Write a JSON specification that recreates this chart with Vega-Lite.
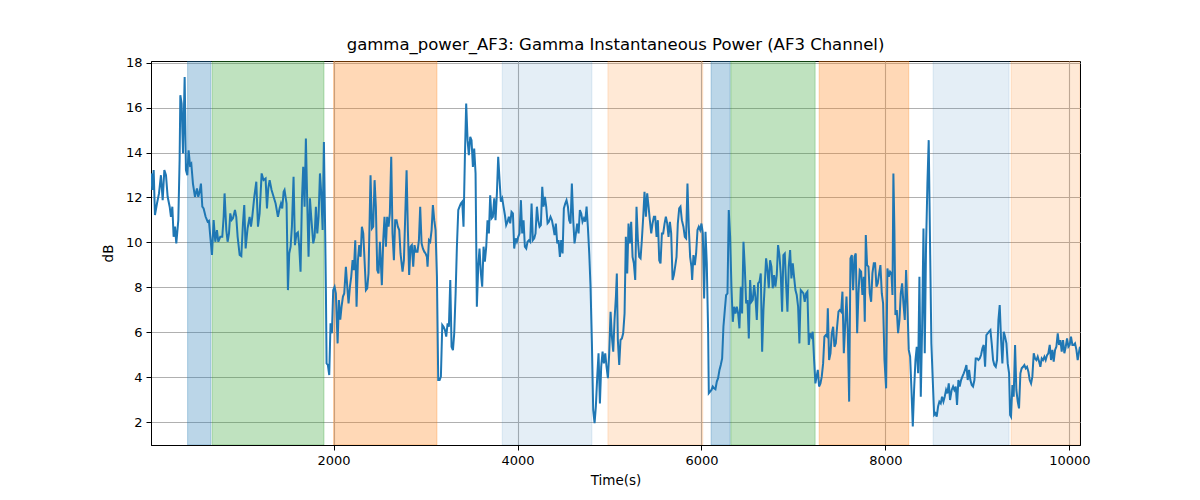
{
  "$schema": "https://vega.github.io/schema/vega-lite/v6.json",
  "width": 929,
  "height": 384,
  "autosize": {"type": "none"},
  "padding": {"left": 151, "top": 61, "right": 120, "bottom": 55},
  "background": "white",
  "title": {"text": "gamma_power_AF3: Gamma Instantaneous Power (AF3 Channel)", "font": "DejaVu Sans", "fontSize": 16.5, "fontWeight": "normal", "color": "black", "offset": 3},
  "datasets": {
    "bands": [
      {"start": 413, "end": 667, "phase": "A"},
      {"start": 681, "end": 1896, "phase": "B"},
      {"start": 2000, "end": 3124, "phase": "C"},
      {"start": 3834, "end": 4809, "phase": "D"},
      {"start": 4983, "end": 6015, "phase": "E"},
      {"start": 6105, "end": 6312, "phase": "A"},
      {"start": 6320, "end": 7236, "phase": "B"},
      {"start": 7280, "end": 8254, "phase": "C"},
      {"start": 8519, "end": 9345, "phase": "D"},
      {"start": 9367, "end": 10116, "phase": "E"}
    ],
    "signal": [
      {"t":18,"v":13.07},{"t":29,"v":12.33},{"t":44,"v":13.22},{"t":58,"v":11.22},{"t":80,"v":11.73},{"t":102,"v":12.18},{"t":123,"v":12.99},{"t":142,"v":11.88},{"t":160,"v":13.22},{"t":178,"v":12.99},{"t":196,"v":12.03},{"t":218,"v":11.59},{"t":232,"v":11.14},{"t":247,"v":11.59},{"t":261,"v":10.25},{"t":276,"v":10.70},{"t":290,"v":9.96},{"t":312,"v":10.99},{"t":326,"v":13.66},{"t":334,"v":16.55},{"t":348,"v":16.18},{"t":363,"v":13.96},{"t":381,"v":17.36},{"t":395,"v":13.22},{"t":410,"v":12.99},{"t":424,"v":14.10},{"t":439,"v":13.44},{"t":453,"v":13.51},{"t":471,"v":12.62},{"t":493,"v":12.03},{"t":515,"v":12.40},{"t":529,"v":12.03},{"t":544,"v":12.25},{"t":558,"v":12.62},{"t":573,"v":11.59},{"t":587,"v":11.51},{"t":609,"v":11.14},{"t":631,"v":10.92},{"t":645,"v":10.96},{"t":660,"v":10.25},{"t":678,"v":9.44},{"t":696,"v":11.0},{"t":714,"v":10.03},{"t":732,"v":10.55},{"t":747,"v":10.03},{"t":768,"v":10.25},{"t":790,"v":10.25},{"t":805,"v":11.14},{"t":815,"v":12.18},{"t":834,"v":10.55},{"t":848,"v":10.03},{"t":863,"v":10.40},{"t":877,"v":11.29},{"t":892,"v":11.0},{"t":906,"v":11.07},{"t":928,"v":11.44},{"t":942,"v":11.14},{"t":957,"v":10.25},{"t":979,"v":9.44},{"t":997,"v":9.39},{"t":1015,"v":10.85},{"t":1029,"v":11.66},{"t":1044,"v":9.73},{"t":1065,"v":10.62},{"t":1087,"v":11.14},{"t":1102,"v":10.70},{"t":1116,"v":11.14},{"t":1138,"v":12.03},{"t":1160,"v":12.70},{"t":1178,"v":10.70},{"t":1196,"v":11.29},{"t":1218,"v":13.07},{"t":1239,"v":12.77},{"t":1261,"v":12.84},{"t":1276,"v":11.51},{"t":1290,"v":12.40},{"t":1305,"v":12.77},{"t":1326,"v":12.33},{"t":1348,"v":12.03},{"t":1370,"v":11.73},{"t":1395,"v":11.14},{"t":1413,"v":11.51},{"t":1428,"v":11.73},{"t":1442,"v":11.51},{"t":1457,"v":12.25},
      {"t":1467,"v":12.33},{"t":1489,"v":11.73},{"t":1504,"v":7.88},{"t":1518,"v":9.51},{"t":1533,"v":9.81},{"t":1547,"v":10.70},{"t":1565,"v":12.92},{"t":1580,"v":9.88},{"t":1598,"v":10.40},{"t":1612,"v":10.45},{"t":1627,"v":9.81},{"t":1641,"v":8.70},{"t":1656,"v":11.88},{"t":1670,"v":13.36},{"t":1685,"v":11.59},{"t":1699,"v":14.62},{"t":1714,"v":11.73},{"t":1728,"v":9.36},{"t":1743,"v":11.96},{"t":1757,"v":11.14},{"t":1779,"v":9.96},{"t":1794,"v":10.25},{"t":1808,"v":11.59},{"t":1823,"v":10.40},{"t":1837,"v":11.14},{"t":1852,"v":13.07},{"t":1866,"v":12.18},{"t":1881,"v":10.55},{"t":1895,"v":14.47},{"t":1909,"v":10.40},{"t":1917,"v":7.73},{"t":1924,"v":4.62},{"t":1938,"v":4.55},{"t":1953,"v":4.10},{"t":1967,"v":6.40},{"t":1982,"v":5.96},{"t":1996,"v":7.88},{"t":2011,"v":8.03},{"t":2025,"v":7.73},{"t":2044,"v":5.51},{"t":2058,"v":7.44},{"t":2073,"v":6.56},{"t":2087,"v":7.14},{"t":2102,"v":7.59},{"t":2116,"v":7.73},{"t":2134,"v":8.92},{"t":2149,"v":8.03},{"t":2163,"v":7.29},{"t":2178,"v":8.03},{"t":2192,"v":8.47},{"t":2207,"v":9.21},{"t":2221,"v":8.77},{"t":2236,"v":10.10},{"t":2250,"v":7.14},{"t":2265,"v":9.21},{"t":2279,"v":9.88},{"t":2294,"v":9.36},{"t":2308,"v":10.70},{"t":2323,"v":10.40},{"t":2337,"v":9.21},{"t":2352,"v":7.88},{"t":2366,"v":7.96},{"t":2380,"v":8.62},{"t":2402,"v":12.99},{"t":2417,"v":10.62},{"t":2431,"v":10.70},{"t":2446,"v":12.77},{"t":2460,"v":11.59},{"t":2475,"v":8.77},{"t":2489,"v":8.62},{"t":2504,"v":10.03},{"t":2525,"v":8.10},{"t":2540,"v":10.10},{"t":2554,"v":11.14},{"t":2569,"v":9.81},{"t":2583,"v":11.14},{"t":2598,"v":10.70},{"t":2612,"v":11.29},{"t":2627,"v":13.81},{"t":2641,"v":10.40},{"t":2656,"v":9.21},{"t":2670,"v":10.99},{"t":2685,"v":10.99},{"t":2699,"v":10.70},{"t":2714,"v":10.55},{"t":2728,"v":9.51},{"t":2750,"v":8.70},{"t":2765,"v":9.21},{"t":2779,"v":11.14},{"t":2794,"v":13.21},{"t":2808,"v":10.55},{"t":2822,"v":8.55},{"t":2837,"v":9.81},{"t":2851,"v":9.88},{"t":2866,"v":8.92},{"t":2880,"v":9.88},{"t":2895,"v":9.59},
      {"t":2913,"v":9.59},{"t":2928,"v":10.10},{"t":2942,"v":11.59},{"t":2957,"v":9.96},{"t":2971,"v":9.73},{"t":2986,"v":9.59},{"t":3000,"v":9.51},{"t":3015,"v":9.36},{"t":3022,"v":8.92},{"t":3037,"v":10.10},{"t":3051,"v":10.03},{"t":3066,"v":10.55},{"t":3080,"v":11.66},{"t":3095,"v":10.99},{"t":3109,"v":10.55},{"t":3124,"v":8.47},{"t":3138,"v":3.88},{"t":3153,"v":3.88},{"t":3167,"v":4.03},{"t":3182,"v":6.33},{"t":3196,"v":6.25},{"t":3211,"v":6.10},{"t":3225,"v":5.81},{"t":3240,"v":6.40},{"t":3254,"v":6.25},{"t":3269,"v":8.33},{"t":3283,"v":5.36},{"t":3298,"v":5.21},{"t":3312,"v":5.96},{"t":3327,"v":7.73},{"t":3341,"v":9.81},{"t":3356,"v":11.44},{"t":3370,"v":11.59},{"t":3384,"v":11.73},{"t":3399,"v":11.81},{"t":3413,"v":10.70},{"t":3428,"v":13.81},{"t":3442,"v":16.18},{"t":3457,"v":14.55},{"t":3471,"v":13.88},{"t":3486,"v":14.70},{"t":3500,"v":14.55},{"t":3515,"v":13.36},{"t":3529,"v":14.18},{"t":3544,"v":13.07},{"t":3558,"v":7.14},{"t":3573,"v":8.92},{"t":3587,"v":9.73},{"t":3602,"v":8.62},{"t":3616,"v":8.03},{"t":3631,"v":9.81},{"t":3645,"v":9.14},{"t":3660,"v":9.81},{"t":3674,"v":10.99},{"t":3689,"v":10.40},{"t":3703,"v":12.10},{"t":3718,"v":11.07},{"t":3732,"v":11.14},{"t":3747,"v":11.96},{"t":3761,"v":10.99},{"t":3776,"v":12.18},{"t":3790,"v":13.81},{"t":3805,"v":12.77},{"t":3819,"v":11.81},{"t":3834,"v":11.96},{"t":3848,"v":11.59},{"t":3863,"v":11.22},{"t":3877,"v":10.77},{"t":3892,"v":10.92},{"t":3906,"v":11.14},{"t":3921,"v":10.85},{"t":3935,"v":11.36},{"t":3950,"v":11.29},{"t":3964,"v":9.73},{"t":3979,"v":10.18},{"t":3993,"v":10.03},{"t":4008,"v":10.25},{"t":4022,"v":10.40},{"t":4037,"v":11.88},{"t":4051,"v":10.40},{"t":4066,"v":10.99},{"t":4080,"v":9.81},{"t":4095,"v":9.73},{"t":4109,"v":10.03},{"t":4124,"v":10.10},{"t":4138,"v":10.03},{"t":4153,"v":11.73},{"t":4167,"v":10.10},{"t":4182,"v":10.18},{"t":4196,"v":10.40},{"t":4211,"v":11.59},{"t":4225,"v":10.99},{"t":4240,"v":10.70},{"t":4254,"v":10.77},{"t":4269,"v":12.47},{"t":4283,"v":11.59},{"t":4298,"v":12.03},{"t":4312,"v":11.59},{"t":4327,"v":10.85},{"t":4341,"v":10.92},
      {"t":4359,"v":11.14},{"t":4374,"v":10.99},{"t":4388,"v":10.70},{"t":4403,"v":10.33},{"t":4417,"v":10.84},{"t":4432,"v":9.96},{"t":4446,"v":10.10},{"t":4461,"v":9.36},{"t":4475,"v":10.10},{"t":4490,"v":9.51},{"t":4504,"v":11.51},{"t":4519,"v":11.73},{"t":4533,"v":11.88},{"t":4548,"v":11.59},{"t":4562,"v":10.99},{"t":4577,"v":10.84},{"t":4591,"v":12.62},{"t":4606,"v":10.99},{"t":4620,"v":9.96},{"t":4635,"v":10.40},{"t":4649,"v":10.84},{"t":4664,"v":10.40},{"t":4678,"v":11.44},{"t":4693,"v":11.29},{"t":4707,"v":10.92},{"t":4722,"v":11.07},{"t":4736,"v":10.92},{"t":4751,"v":11.59},{"t":4765,"v":10.70},{"t":4780,"v":9.51},{"t":4794,"v":8.03},{"t":4809,"v":5.51},{"t":4823,"v":2.55},{"t":4838,"v":1.96},{"t":4852,"v":2.70},{"t":4867,"v":4.03},{"t":4881,"v":5.07},{"t":4896,"v":2.84},{"t":4910,"v":4.47},{"t":4925,"v":5.14},{"t":4939,"v":4.62},{"t":4954,"v":5.07},{"t":4968,"v":4.47},{"t":4983,"v":3.96},{"t":4997,"v":5.07},{"t":5012,"v":6.92},{"t":5026,"v":5.81},{"t":5041,"v":5.14},{"t":5055,"v":6.55},{"t":5070,"v":7.59},{"t":5080,"v":8.62},{"t":5091,"v":5.66},{"t":5106,"v":4.55},{"t":5120,"v":5.66},{"t":5135,"v":5.73},{"t":5149,"v":5.96},{"t":5164,"v":6.84},{"t":5178,"v":10.25},{"t":5193,"v":8.62},{"t":5207,"v":10.84},{"t":5222,"v":9.96},{"t":5236,"v":10.92},{"t":5251,"v":9.36},{"t":5265,"v":9.07},{"t":5280,"v":8.33},{"t":5294,"v":11.59},{"t":5309,"v":10.10},{"t":5323,"v":9.36},{"t":5338,"v":9.29},{"t":5352,"v":10.10},{"t":5367,"v":11.14},{"t":5381,"v":12.25},{"t":5396,"v":11.14},{"t":5410,"v":12.18},{"t":5425,"v":11.59},{"t":5439,"v":10.99},{"t":5454,"v":10.40},{"t":5468,"v":10.84},{"t":5483,"v":11.14},{"t":5497,"v":11.14},{"t":5512,"v":10.25},{"t":5526,"v":10.99},{"t":5541,"v":9.21},{"t":5555,"v":9.07},{"t":5570,"v":10.40},{"t":5584,"v":10.40},{"t":5599,"v":10.84},{"t":5613,"v":11.14},{"t":5628,"v":10.84},{"t":5642,"v":10.25},{"t":5657,"v":10.92},{"t":5671,"v":10.40},{"t":5686,"v":8.33},{"t":5700,"v":8.55},{"t":5714,"v":8.92},{"t":5729,"v":9.36},{"t":5743,"v":10.84},{"t":5758,"v":11.51},{"t":5772,"v":11.59},{"t":5787,"v":10.99},
      {"t":5804,"v":10.70},{"t":5819,"v":10.25},{"t":5833,"v":10.18},{"t":5848,"v":12.62},{"t":5862,"v":10.70},{"t":5877,"v":9.36},{"t":5891,"v":8.92},{"t":5899,"v":8.33},{"t":5913,"v":9.44},{"t":5928,"v":8.99},{"t":5942,"v":9.51},{"t":5957,"v":10.55},{"t":5971,"v":10.70},{"t":5986,"v":10.55},{"t":6000,"v":10.84},{"t":6015,"v":10.40},{"t":6029,"v":7.51},{"t":6044,"v":10.47},{"t":6058,"v":9.07},{"t":6073,"v":5.96},{"t":6080,"v":3.29},{"t":6094,"v":3.36},{"t":6109,"v":3.44},{"t":6123,"v":3.59},{"t":6138,"v":3.51},{"t":6152,"v":3.47},{"t":6167,"v":3.81},{"t":6181,"v":3.96},{"t":6196,"v":4.33},{"t":6210,"v":4.55},{"t":6225,"v":4.84},{"t":6239,"v":6.25},{"t":6254,"v":6.99},{"t":6268,"v":7.66},{"t":6283,"v":7.73},{"t":6297,"v":11.44},{"t":6312,"v":10.25},{"t":6326,"v":8.03},{"t":6341,"v":6.47},{"t":6355,"v":7.14},{"t":6370,"v":6.84},{"t":6384,"v":7.14},{"t":6399,"v":6.84},{"t":6413,"v":6.18},{"t":6428,"v":8.03},{"t":6442,"v":6.84},{"t":6457,"v":10.03},{"t":6471,"v":8.92},{"t":6486,"v":7.29},{"t":6500,"v":7.44},{"t":6515,"v":5.73},{"t":6529,"v":8.33},{"t":6544,"v":7.36},{"t":6558,"v":7.44},{"t":6573,"v":8.10},{"t":6587,"v":7.58},{"t":6602,"v":6.55},{"t":6616,"v":8.18},{"t":6631,"v":8.25},{"t":6645,"v":8.62},{"t":6660,"v":5.14},{"t":6674,"v":6.99},{"t":6689,"v":8.18},{"t":6703,"v":9.29},{"t":6718,"v":8.77},{"t":6732,"v":7.96},{"t":6746,"v":9.21},{"t":6761,"v":8.92},{"t":6775,"v":7.96},{"t":6790,"v":8.55},{"t":6804,"v":8.03},{"t":6819,"v":8.55},{"t":6833,"v":9.88},{"t":6848,"v":9.44},{"t":6862,"v":8.62},{"t":6877,"v":6.92},{"t":6891,"v":9.44},{"t":6906,"v":9.51},{"t":6920,"v":8.18},{"t":6935,"v":6.92},{"t":6949,"v":8.92},{"t":6964,"v":9.66},{"t":6978,"v":8.40},{"t":6993,"v":9.07},{"t":7007,"v":8.47},{"t":7022,"v":7.88},{"t":7036,"v":7.66},{"t":7051,"v":7.14},{"t":7065,"v":5.51},{"t":7080,"v":7.88},{"t":7094,"v":7.81},{"t":7109,"v":7.73},{"t":7123,"v":7.36},{"t":7138,"v":7.73},{"t":7152,"v":7.81},{"t":7167,"v":5.44},{"t":7181,"v":5.96},{"t":7196,"v":5.81},{"t":7210,"v":6.03},{"t":7225,"v":4.77},{"t":7239,"v":3.73},
      {"t":7265,"v":4.33},{"t":7279,"v":3.59},{"t":7294,"v":3.73},{"t":7308,"v":4.03},{"t":7323,"v":4.62},{"t":7337,"v":5.81},{"t":7352,"v":5.88},{"t":7366,"v":5.81},{"t":7374,"v":7.07},{"t":7388,"v":4.77},{"t":7403,"v":5.07},{"t":7417,"v":5.96},{"t":7432,"v":6.25},{"t":7446,"v":5.36},{"t":7461,"v":5.51},{"t":7475,"v":6.25},{"t":7490,"v":6.92},{"t":7504,"v":6.99},{"t":7519,"v":6.92},{"t":7533,"v":7.81},{"t":7548,"v":5.07},{"t":7562,"v":6.25},{"t":7577,"v":7.59},{"t":7591,"v":6.10},{"t":7606,"v":2.92},{"t":7620,"v":9.29},{"t":7635,"v":9.44},{"t":7649,"v":7.88},{"t":7664,"v":9.36},{"t":7678,"v":9.51},{"t":7693,"v":5.96},{"t":7707,"v":7.73},{"t":7721,"v":8.77},{"t":7736,"v":8.70},{"t":7750,"v":7.66},{"t":7765,"v":8.47},{"t":7776,"v":6.47},{"t":7787,"v":10.33},{"t":7801,"v":8.99},{"t":7816,"v":8.92},{"t":7830,"v":7.73},{"t":7845,"v":7.36},{"t":7859,"v":8.62},{"t":7874,"v":9.07},{"t":7888,"v":9.07},{"t":7903,"v":8.03},{"t":7917,"v":8.18},{"t":7932,"v":8.62},{"t":7946,"v":8.99},{"t":7961,"v":7.73},{"t":7975,"v":7.29},{"t":7990,"v":4.77},{"t":8008,"v":3.51},{"t":8022,"v":8.84},{"t":8037,"v":8.47},{"t":8051,"v":8.70},{"t":8066,"v":8.62},{"t":8077,"v":7.66},{"t":8087,"v":13.07},{"t":8098,"v":10.55},{"t":8109,"v":6.77},{"t":8124,"v":6.99},{"t":8138,"v":5.96},{"t":8153,"v":6.55},{"t":8167,"v":7.73},{"t":8182,"v":8.18},{"t":8196,"v":7.29},{"t":8211,"v":6.55},{"t":8225,"v":8.77},{"t":8240,"v":7.14},{"t":8254,"v":5.22},{"t":8269,"v":4.92},{"t":8283,"v":3.51},{"t":8298,"v":1.81},{"t":8312,"v":3.44},{"t":8327,"v":4.77},{"t":8341,"v":5.36},{"t":8356,"v":4.18},{"t":8370,"v":8.47},{"t":8385,"v":3.14},{"t":8399,"v":6.10},{"t":8414,"v":10.62},{"t":8428,"v":5.07},{"t":8442,"v":9.81},{"t":8457,"v":12.62},{"t":8471,"v":14.55},{"t":8486,"v":9.81},{"t":8500,"v":5.51},{"t":8515,"v":3.88},{"t":8530,"v":2.33},{"t":8544,"v":2.40},{"t":8558,"v":2.25},{"t":8573,"v":2.70},{"t":8587,"v":2.92},{"t":8602,"v":2.84},{"t":8616,"v":3.14},{"t":8631,"v":2.92},{"t":8645,"v":3.14},{"t":8660,"v":3.44},{"t":8674,"v":3.29},{"t":8689,"v":3.73},{"t":8703,"v":2.99},
      {"t":8721,"v":3.44},{"t":8736,"v":3.59},{"t":8750,"v":3.44},{"t":8765,"v":3.59},{"t":8779,"v":2.77},{"t":8794,"v":3.88},{"t":8808,"v":3.59},{"t":8823,"v":3.88},{"t":8837,"v":4.03},{"t":8852,"v":4.18},{"t":8866,"v":4.33},{"t":8881,"v":4.55},{"t":8895,"v":3.88},{"t":8910,"v":4.33},{"t":8924,"v":3.88},{"t":8939,"v":3.66},{"t":8953,"v":3.59},{"t":8968,"v":3.88},{"t":8982,"v":4.84},{"t":8997,"v":4.84},{"t":9011,"v":4.77},{"t":9026,"v":4.84},{"t":9040,"v":4.99},{"t":9055,"v":5.29},{"t":9069,"v":5.44},{"t":9084,"v":4.47},{"t":9098,"v":5.88},{"t":9113,"v":5.96},{"t":9127,"v":6.03},{"t":9142,"v":6.10},{"t":9156,"v":5.51},{"t":9171,"v":4.77},{"t":9185,"v":4.55},{"t":9200,"v":4.47},{"t":9214,"v":4.77},{"t":9229,"v":6.55},{"t":9243,"v":7.21},{"t":9258,"v":5.66},{"t":9272,"v":4.62},{"t":9287,"v":6.03},{"t":9301,"v":5.81},{"t":9316,"v":5.51},{"t":9330,"v":4.62},{"t":9345,"v":4.18},{"t":9356,"v":2.33},{"t":9366,"v":2.25},{"t":9381,"v":3.66},{"t":9395,"v":3.14},{"t":9410,"v":5.44},{"t":9424,"v":3.44},{"t":9439,"v":2.92},{"t":9453,"v":2.62},{"t":9468,"v":4.18},{"t":9482,"v":4.40},{"t":9497,"v":4.47},{"t":9511,"v":4.55},{"t":9526,"v":4.40},{"t":9540,"v":4.47},{"t":9555,"v":4.25},{"t":9569,"v":3.88},{"t":9584,"v":3.73},{"t":9598,"v":4.03},{"t":9613,"v":5.07},{"t":9627,"v":4.84},{"t":9642,"v":4.77},{"t":9656,"v":4.92},{"t":9671,"v":4.70},{"t":9685,"v":4.47},{"t":9700,"v":4.84},{"t":9714,"v":4.77},{"t":9729,"v":4.92},{"t":9743,"v":4.77},{"t":9758,"v":4.99},{"t":9772,"v":5.07},{"t":9787,"v":5.44},{"t":9801,"v":4.77},{"t":9816,"v":5.22},{"t":9830,"v":4.70},{"t":9845,"v":5.22},{"t":9859,"v":5.36},{"t":9874,"v":5.96},{"t":9888,"v":5.44},{"t":9903,"v":5.66},{"t":9917,"v":5.14},{"t":9932,"v":5.66},{"t":9946,"v":5.07},{"t":9961,"v":5.36},{"t":9975,"v":5.73},{"t":9990,"v":5.36},{"t":10004,"v":5.44},{"t":10018,"v":5.81},{"t":10033,"v":5.44},{"t":10047,"v":5.44},{"t":10062,"v":5.51},{"t":10077,"v":5.22},{"t":10091,"v":4.77},{"t":10106,"v":5.14},{"t":10116,"v":5.36}
    ]
  },
  "layer": [
    {
      "data": {"name": "bands"},
      "mark": {"type": "rect", "clip": true, "strokeWidth": 1},
      "encoding": {
        "x": {"field": "start", "type": "quantitative", "scale": {"domain": [15, 10116], "nice": false, "zero": false},
              "axis": {"values": [2000, 4000, 6000, 8000, 10000], "format": "d", "title": "Time(s)", "titlePadding": 6, "grid": true}},
        "x2": {"field": "end"},
        "color": {"field": "phase", "type": "nominal", "legend": null,
                  "scale": {"domain": ["A", "B", "C", "D", "E"], "range": ["rgba(31,119,180,0.3)", "rgba(44,160,44,0.3)", "rgba(255,127,14,0.3)", "rgba(31,119,180,0.12)", "rgba(255,127,14,0.17)"]}},
        "stroke": {"field": "phase", "type": "nominal", "legend": null,
                  "scale": {"domain": ["A", "B", "C", "D", "E"], "range": ["rgba(31,119,180,0.3)", "rgba(44,160,44,0.3)", "rgba(255,127,14,0.3)", "rgba(31,119,180,0.12)", "rgba(255,127,14,0.17)"]}}
      }
    },
    {
      "data": {"name": "signal"},
      "mark": {"type": "line", "color": "#1f77b4", "strokeWidth": 2, "clip": true},
      "encoding": {
        "x": {"field": "t", "type": "quantitative"},
        "y": {"field": "v", "type": "quantitative", "scale": {"domain": [0.99, 18.07], "nice": false, "zero": false},
              "axis": {"values": [2, 4, 6, 8, 10, 12, 14, 16, 18], "title": "dB", "titlePadding": 10, "grid": true}}
      }
    }
  ],
  "config": {
    "view": {"stroke": "black", "strokeWidth": 1},
    "axis": {
      "domainColor": "black", "domainWidth": 1, "tickColor": "black", "tickSize": 5, "tickWidth": 1,
      "labelFont": "DejaVu Sans", "labelFontSize": 13, "labelColor": "black", "labelPadding": 4,
      "titleFont": "DejaVu Sans", "titleFontSize": 13.5, "titleFontWeight": "normal", "titleColor": "black",
      "gridColor": "#b0b0b0", "gridWidth": 1.1, "gridOpacity": 1
    }
  }
}
